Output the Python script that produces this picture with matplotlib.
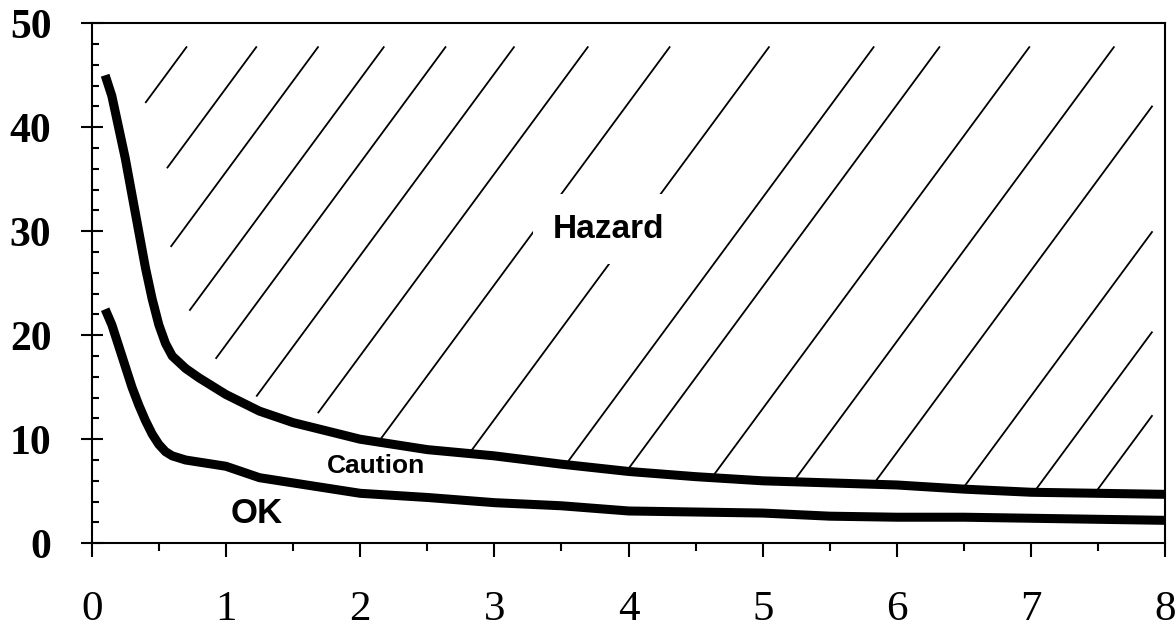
import numpy as np
import matplotlib.pyplot as plt

# boundary curves
x_pts = [0.1, 0.15, 0.2, 0.25, 0.3, 0.35, 0.4, 0.45, 0.5, 0.55, 0.6, 0.7, 0.8, 1.0,
         1.25, 1.5, 1.75, 2.0, 2.5, 3.0, 3.5, 4.0, 4.5, 5.0, 5.5, 6.0, 6.5, 7.0, 7.5, 8.0]
hazard_line = [45, 43, 40, 37, 33.5, 30, 26.5, 23.5, 21.0, 19.2, 18.0, 16.8, 15.9, 14.3,
               12.7, 11.6, 10.8, 10.0, 9.0, 8.4, 7.6, 6.9, 6.4, 6.0, 5.8, 5.6, 5.2, 4.9, 4.8, 4.7]
caution_line = [22.5, 21, 19, 17, 15, 13.3, 11.8, 10.5, 9.5, 8.8, 8.4, 8.0, 7.8, 7.4,
                6.3, 5.8, 5.3, 4.8, 4.4, 3.9, 3.6, 3.1, 3.0, 2.9, 2.6, 2.5, 2.5, 2.4, 2.3, 2.2]

# hatching: where each diagonal crosses y=0, and the left edge of the hatched area
hatch_offsets = [-2.02, -1.50, -1.04, -0.55, -0.09, 0.42, 0.97, 1.58, 2.32, 3.10,
                 3.59, 4.26, 4.89, 5.50, 6.19, 6.74, 7.20]
edge_x = [0.41, 0.56, 0.58, 0.72, 0.88, 1.21, 1.68, 1.9]
edge_y = [42.4, 37.6, 29.1, 22.7, 18.4, 14.2, 13.0, 0]

x_ticks = [0, 1, 2, 3, 4, 5, 6, 7, 8]
y_ticks = [0, 10, 20, 30, 40, 50]

fig = plt.figure(figsize=(11.76, 6.28), dpi=100)
ax = fig.add_axes([0.078, 0.135, 0.913, 0.828])

slope = 17.5
yy = np.linspace(0, 47.7, 2000)
for c in hatch_offsets:
    xx = c + yy / slope
    bound = np.maximum(np.interp(xx, x_pts, hazard_line), np.interp(xx, edge_x, edge_y))
    ok = (yy > bound) & (xx >= 0.4) & (xx <= 7.9)
    ax.plot(np.where(ok, xx, np.nan), yy, color='black', lw=1.3)

ax.plot(x_pts, hazard_line, color='black', lw=6.5, solid_capstyle='butt')
ax.plot(x_pts, caution_line, color='black', lw=6.5, solid_capstyle='butt')

ax.text(3.85, 30.2, 'Hazard', fontsize=24, fontweight='bold', family='Liberation Sans',
        ha='center', va='center', bbox=dict(fc='white', ec='none', pad=14))
ax.text(2.12, 7.4, 'Caution', fontsize=19, fontweight='bold', family='Liberation Sans',
        ha='center', va='center')
ax.text(1.23, 2.9, 'OK', fontsize=25, fontweight='bold', family='Liberation Sans',
        ha='center', va='center')

ax.set_xlim(0, 8)
ax.set_ylim(0, 50)
ax.set_xticks(x_ticks)
ax.set_yticks(y_ticks)
ax.set_xticks(np.arange(0.5, 8, 1), minor=True)
ax.set_yticks([v for v in range(0, 51, 2) if v % 10], minor=True)
ax.tick_params(axis='x', which='major', direction='out', length=10, width=1.5, pad=24)
ax.tick_params(axis='x', which='minor', direction='out', length=6, width=1.5)
ax.tick_params(axis='y', which='major', direction='inout', length=16, width=1.5, pad=21)
ax.tick_params(axis='y', which='minor', direction='in', length=5, width=1.5)
for lab in ax.get_xticklabels():
    lab.set_family('Liberation Serif')
    lab.set_fontsize(31)
for lab in ax.get_yticklabels():
    lab.set_family('Liberation Serif')
    lab.set_fontsize(30)
    lab.set_fontweight('bold')
for s in ax.spines.values():
    s.set_linewidth(1.5)

plt.savefig('out.png')
